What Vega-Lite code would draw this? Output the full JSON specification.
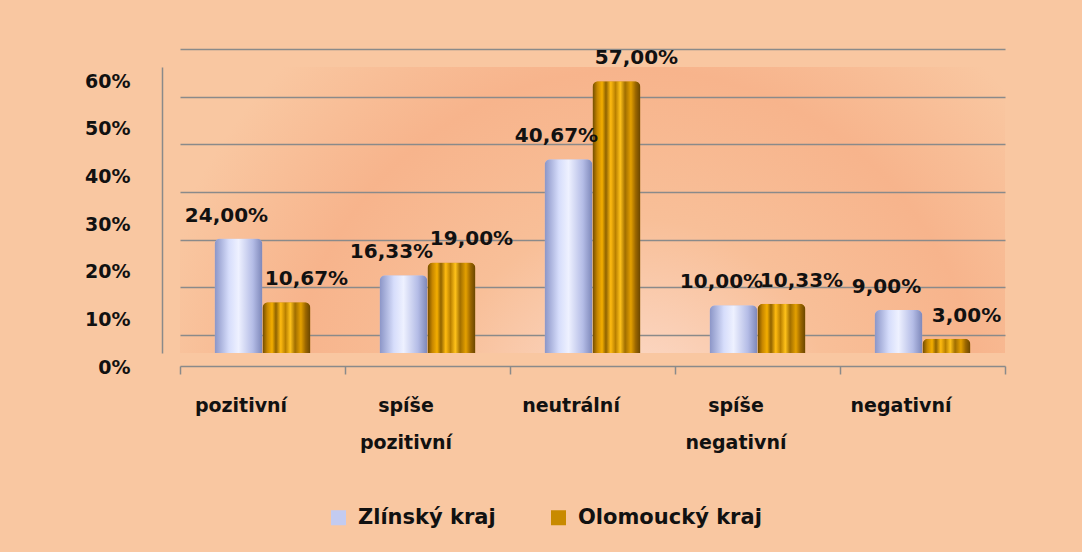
{
  "$schema": "https://vega.github.io/schema/vega-lite/v6.json",
  "width": 825,
  "height": 286,
  "autosize": {"type": "none"},
  "padding": {"left": 180, "top": 67, "right": 77, "bottom": 199},
  "background": "#f9c7a1",
  "data": {
    "values": [
      {"kategorie": "pozitivní", "kraj": "Zlínský kraj", "hodnota": 0.24},
      {"kategorie": "pozitivní", "kraj": "Olomoucký kraj", "hodnota": 0.1067},
      {"kategorie": "spíše pozitivní", "kraj": "Zlínský kraj", "hodnota": 0.1633},
      {"kategorie": "spíše pozitivní", "kraj": "Olomoucký kraj", "hodnota": 0.19},
      {"kategorie": "neutrální", "kraj": "Zlínský kraj", "hodnota": 0.4067},
      {"kategorie": "neutrální", "kraj": "Olomoucký kraj", "hodnota": 0.57},
      {"kategorie": "spíše negativní", "kraj": "Zlínský kraj", "hodnota": 0.10},
      {"kategorie": "spíše negativní", "kraj": "Olomoucký kraj", "hodnota": 0.1033},
      {"kategorie": "negativní", "kraj": "Zlínský kraj", "hodnota": 0.09},
      {"kategorie": "negativní", "kraj": "Olomoucký kraj", "hodnota": 0.03}
    ]
  },
  "encoding": {
    "x": {
      "field": "kategorie",
      "type": "nominal",
      "sort": null,
      "scale": {"paddingInner": 0, "paddingOuter": 0},
      "axis": {
        "title": null,
        "labelAngle": 0,
        "offset": 13,
        "domainColor": "#8a8a8a",
        "domainWidth": 1.5,
        "tickBand": "extent",
        "tickColor": "#8a8a8a",
        "tickWidth": 1.5,
        "tickSize": 8,
        "labelOffset": -22,
        "labelPadding": 22,
        "labelExpr": "split(datum.label, ' ')",
        "labelLineHeight": 37,
        "labelFont": "DejaVu Sans",
        "labelFontWeight": "bold",
        "labelFontSize": 19,
        "labelColor": "#111111",
        "grid": false
      }
    },
    "xOffset": {
      "field": "kraj",
      "sort": ["Zlínský kraj", "Olomoucký kraj"],
      "scale": {"paddingInner": 0, "paddingOuter": 0.72}
    },
    "y": {
      "field": "hodnota",
      "type": "quantitative",
      "scale": {"domain": [0, 0.6], "nice": false},
      "axis": {
        "title": null,
        "format": ".0%",
        "values": [0, 0.1, 0.2, 0.3, 0.4, 0.5, 0.6],
        "offset": 18,
        "domainColor": "#8a8a8a",
        "domainWidth": 1.5,
        "ticks": false,
        "tickOffset": -18,
        "labelOffset": 32,
        "labelPadding": 32,
        "labelFont": "DejaVu Sans",
        "labelFontWeight": "bold",
        "labelFontSize": 19,
        "labelColor": "#111111",
        "grid": true,
        "gridColor": "#8a8a8a",
        "gridWidth": 1.5
      }
    }
  },
  "layer": [
    {
      "mark": {"type": "bar", "cornerRadiusEnd": 6},
      "encoding": {
        "color": {
          "field": "kraj",
          "type": "nominal",
          "scale": {"domain": ["Zlínský kraj", "Olomoucký kraj"], "range": ["#c3cbf0", "#c88a00"]},
          "legend": {
            "title": null,
            "orient": "none",
            "legendX": 148,
            "legendY": 440,
            "direction": "horizontal",
            "symbolType": "square",
            "symbolSize": 225,
            "symbolStrokeWidth": 0,
            "columnPadding": 52,
            "labelOffset": 9,
            "labelLimit": 400,
            "labelFont": "DejaVu Sans",
            "labelFontWeight": "bold",
            "labelFontSize": 21,
            "labelColor": "#111111"
          }
        }
      }
    },
    {
      "mark": {"type": "bar", "cornerRadiusEnd": 6},
      "encoding": {
        "fill": {
          "condition": {
            "test": "datum.kraj === 'Zlínský kraj'",
            "value": {
              "gradient": "linear", "x1": 0, "y1": 0, "x2": 1, "y2": 0,
              "stops": [
                {"offset": 0, "color": "#8a94c6"},
                {"offset": 0.3, "color": "#d6ddfb"},
                {"offset": 0.5, "color": "#eef1ff"},
                {"offset": 0.8, "color": "#b4bce6"},
                {"offset": 1, "color": "#7c86b8"}
              ]
            }
          },
          "value": {
            "gradient": "linear", "x1": 0, "y1": 0, "x2": 1, "y2": 0,
            "stops": [
              {"offset": 0, "color": "#6e4a00"},
              {"offset": 0.1, "color": "#c68600"},
              {"offset": 0.2, "color": "#f4ae00"},
              {"offset": 0.28, "color": "#8f6200"},
              {"offset": 0.38, "color": "#ffbb10"},
              {"offset": 0.48, "color": "#b98000"},
              {"offset": 0.58, "color": "#ffc21a"},
              {"offset": 0.68, "color": "#a06e00"},
              {"offset": 0.8, "color": "#e4a000"},
              {"offset": 0.9, "color": "#9a6600"},
              {"offset": 1, "color": "#684400"}
            ]
          }
        }
      }
    },
    {
      "mark": {
        "type": "text",
        "baseline": "alphabetic",
        "dy": -17,
        "dx": {"expr": "datum.kraj === 'Zlínský kraj' ? -12 : 20"},
        "font": "DejaVu Sans",
        "fontWeight": "bold",
        "fontSize": 20,
        "color": "#111111"
      },
      "encoding": {
        "text": {"field": "hodnota", "type": "quantitative", "format": ".2%"}
      }
    }
  ],
  "config": {
    "locale": {
      "number": {"decimal": ",", "thousands": " ", "grouping": [3], "currency": ["", " Kč"]}
    },
    "view": {
      "stroke": null,
      "fill": {
        "gradient": "radial", "x1": 0.55, "y1": 0.75, "r1": 0, "x2": 0.55, "y2": 0.75, "r2": 0.6,
        "stops": [
          {"offset": 0, "color": "#fcded0"},
          {"offset": 0.4, "color": "#f8bf98"},
          {"offset": 0.7, "color": "#f7b48c"},
          {"offset": 1, "color": "#f9c7a1"}
        ]
      }
    }
  }
}
